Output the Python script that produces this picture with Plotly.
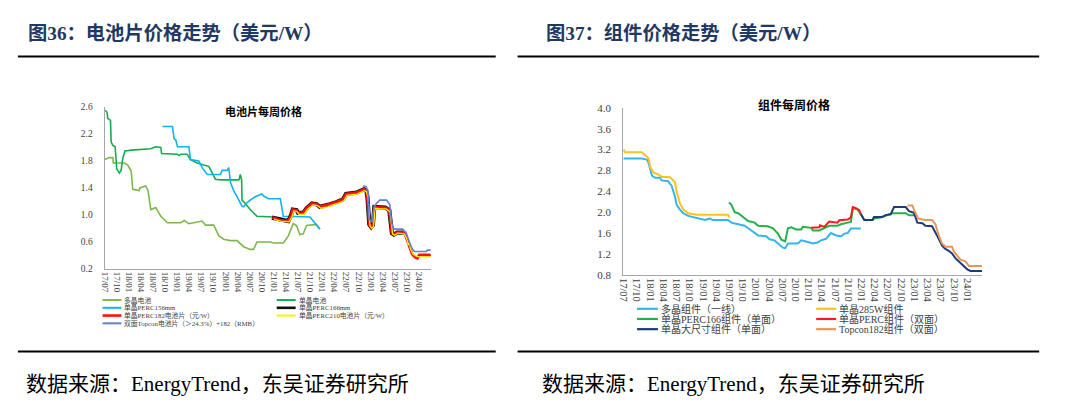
import plotly.graph_objects as go

W, H = 1074, 406


def px(x):
    return x / W


def py(y):
    return 1 - y / H


# ---------------- tick labels ----------------
quarter_dates = ["2017-07-01", "2017-10-01", "2018-01-01", "2018-04-01", "2018-07-01", "2018-10-01",
                 "2019-01-01", "2019-04-01", "2019-07-01", "2019-10-01", "2020-01-01", "2020-04-01",
                 "2020-07-01", "2020-10-01", "2021-01-01", "2021-04-01", "2021-07-01", "2021-10-01",
                 "2022-01-01", "2022-04-01", "2022-07-01", "2022-10-01", "2023-01-01", "2023-04-01",
                 "2023-07-01", "2023-10-01", "2024-01-01"]
quarter_labels = ["17/07", "17/10", "18/01", "18/04", "18/07", "18/10", "19/01", "19/04", "19/07", "19/10",
                  "20/01", "20/04", "20/07", "20/10", "21/01", "21/04", "21/07", "21/10", "22/01", "22/04",
                  "22/07", "22/10", "23/01", "23/04", "23/07", "23/10", "24/01"]
cell_yticks = [0.2, 0.6, 1.0, 1.4, 1.8, 2.2, 2.6]
module_yticks = [0.8, 1.2, 1.6, 2.0, 2.4, 2.8, 3.2, 3.6, 4.0]

# ---------------- cell prices (left) ----------------
cell_poly = [("2017-07-01", 1.82), ("2017-08-01", 1.84), ("2017-08-08", 1.85), ("2017-09-02", 1.85),
             ("2017-09-05", 1.77), ("2017-11-28", 1.77), ("2017-12-23", 1.74), ("2018-01-18", 1.65),
             ("2018-01-30", 1.38), ("2018-03-19", 1.36), ("2018-03-25", 1.40), ("2018-05-08", 1.43),
             ("2018-05-26", 1.36), ("2018-06-15", 1.08), ("2018-07-23", 1.11), ("2018-08-30", 0.98),
             ("2018-10-19", 0.885), ("2019-01-28", 0.885), ("2019-02-22", 0.92), ("2019-03-30", 0.87),
             ("2019-06-01", 0.895), ("2019-07-08", 0.91), ("2019-08-02", 0.85), ("2019-10-04", 0.85),
             ("2019-11-11", 0.69), ("2019-12-18", 0.64), ("2020-02-07", 0.62), ("2020-03-27", 0.62),
             ("2020-05-16", 0.53), ("2020-07-05", 0.49), ("2020-07-30", 0.49), ("2020-08-25", 0.60),
             ("2020-12-03", 0.60), ("2020-12-28", 0.585), ("2021-03-12", 0.585), ("2021-04-19", 0.69),
             ("2021-05-26", 0.875), ("2021-06-20", 0.84), ("2021-07-15", 0.71), ("2021-08-09", 0.72),
             ("2021-09-04", 0.845), ("2021-11-18", 0.86), ("2021-12-13", 0.79)]

cell_mono = [("2017-07-06", 2.55), ("2017-07-20", 2.52), ("2017-07-25", 2.43), ("2017-08-15", 2.40),
             ("2017-08-20", 2.08), ("2017-09-02", 2.03), ("2017-09-19", 2.01), ("2017-10-01", 1.68),
             ("2017-10-21", 1.62), ("2017-11-03", 1.66), ("2017-11-16", 1.84), ("2017-12-03", 1.95),
             ("2017-12-22", 1.95), ("2018-01-18", 1.96), ("2018-06-15", 1.98), ("2018-07-22", 2.01),
             ("2018-08-30", 2.00), ("2018-09-05", 1.91), ("2019-01-03", 1.90), ("2019-01-15", 1.88),
             ("2019-01-28", 1.90), ("2019-03-17", 1.90), ("2019-04-11", 1.82), ("2019-06-01", 1.77),
             ("2019-07-20", 1.74), ("2019-08-27", 1.72), ("2019-09-15", 1.65), ("2019-10-16", 1.53),
             ("2019-11-23", 1.52), ("2020-04-10", 1.52), ("2020-04-16", 1.55), ("2020-04-21", 1.60),
             ("2020-05-01", 1.52), ("2020-05-04", 1.22), ("2020-05-29", 1.17), ("2020-07-05", 1.08),
             ("2020-08-25", 0.98), ("2020-12-03", 0.98), ("2020-12-28", 0.97)]

cell_perc156 = [("2018-09-12", 2.31), ("2018-11-26", 2.31), ("2018-12-08", 2.13), ("2018-12-21", 2.11),
                ("2019-01-03", 2.01), ("2019-03-30", 2.01), ("2019-04-11", 1.82), ("2019-06-13", 1.80),
                ("2019-07-08", 1.70), ("2019-08-15", 1.60), ("2019-11-23", 1.60), ("2019-12-06", 1.66),
                ("2020-01-13", 1.66), ("2020-01-25", 1.70), ("2020-02-07", 1.48), ("2020-03-02", 1.36),
                ("2020-03-27", 1.27), ("2020-05-04", 1.13), ("2020-05-16", 1.12), ("2020-06-10", 1.18),
                ("2020-07-05", 1.22), ("2020-08-12", 1.27), ("2020-10-01", 1.31), ("2020-10-14", 1.28),
                ("2020-11-21", 1.24), ("2021-02-17", 1.24), ("2021-03-12", 0.98), ("2021-05-26", 0.98),
                ("2021-06-20", 0.97), ("2021-09-29", 0.97), ("2021-10-24", 0.91), ("2021-12-13", 0.79)]

cell_perc166 = [("2020-12-16", 0.96), ("2021-01-10", 0.95), ("2021-02-17", 0.92), ("2021-04-19", 0.91),
                ("2021-05-10", 1.00), ("2021-05-22", 1.08), ("2021-06-20", 1.07), ("2021-07-02", 1.03),
                ("2021-08-09", 1.03), ("2021-09-04", 1.10), ("2021-10-15", 1.17), ("2021-11-18", 1.16),
                ("2021-12-13", 1.12), ("2022-02-02", 1.14), ("2022-02-27", 1.16), ("2022-04-16", 1.19),
                ("2022-06-05", 1.23), ("2022-06-28", 1.31), ("2022-09-14", 1.33), ("2022-11-10", 1.38),
                ("2022-11-28", 1.36), ("2022-12-07", 1.27), ("2022-12-21", 0.86), ("2023-01-05", 0.82),
                ("2023-01-17", 0.85), ("2023-01-28", 1.12), ("2023-03-07", 1.11), ("2023-04-21", 1.11),
                ("2023-05-21", 1.07), ("2023-06-10", 0.73), ("2023-06-25", 0.71), ("2023-07-20", 0.74),
                ("2023-09-05", 0.74)]

cell_perc182 = [("2020-12-20", 0.96), ("2021-01-10", 0.95), ("2021-02-17", 0.92), ("2021-04-19", 0.91),
                ("2021-05-10", 1.00), ("2021-05-22", 1.08), ("2021-06-20", 1.07), ("2021-07-02", 1.03),
                ("2021-08-09", 1.03), ("2021-09-04", 1.10), ("2021-10-15", 1.17), ("2021-11-18", 1.16),
                ("2021-12-13", 1.12), ("2022-02-02", 1.14), ("2022-02-27", 1.16), ("2022-04-16", 1.19),
                ("2022-06-05", 1.23), ("2022-06-28", 1.31), ("2022-09-14", 1.33), ("2022-11-10", 1.38),
                ("2022-11-28", 1.36), ("2022-12-07", 1.27), ("2022-12-21", 0.86), ("2023-01-05", 0.82),
                ("2023-01-17", 0.85), ("2023-01-28", 1.12), ("2023-03-07", 1.11), ("2023-04-21", 1.11),
                ("2023-05-21", 1.07), ("2023-06-10", 0.73), ("2023-06-25", 0.71), ("2023-07-20", 0.74),
                ("2023-09-05", 0.74), ("2023-09-20", 0.70), ("2023-10-15", 0.55), ("2023-11-10", 0.42),
                ("2023-12-05", 0.37), ("2023-12-20", 0.36), ("2024-01-02", 0.41), ("2024-03-16", 0.41),
                ("2024-03-28", 0.39)]

cell_perc210 = [("2021-01-01", 0.94), ("2021-02-20", 0.91), ("2021-04-25", 0.90), ("2021-05-18", 0.98),
                ("2021-05-30", 1.06), ("2021-06-25", 1.05), ("2021-07-08", 1.01), ("2021-08-15", 1.01),
                ("2021-09-10", 1.08), ("2021-10-22", 1.15), ("2021-11-25", 1.14), ("2021-12-20", 1.10),
                ("2022-02-10", 1.12), ("2022-03-05", 1.14), ("2022-04-25", 1.17), ("2022-06-12", 1.21),
                ("2022-07-05", 1.29), ("2022-09-20", 1.31), ("2022-11-15", 1.36), ("2022-12-01", 1.34),
                ("2022-12-12", 1.25), ("2022-12-26", 0.84), ("2023-01-10", 0.80), ("2023-01-22", 0.83),
                ("2023-02-03", 1.10), ("2023-03-12", 1.09), ("2023-04-26", 1.09), ("2023-05-26", 1.05),
                ("2023-06-15", 0.72), ("2023-06-30", 0.70), ("2023-07-25", 0.73), ("2023-09-10", 0.72),
                ("2023-09-28", 0.66), ("2023-10-12", 0.55), ("2023-10-20", 0.60), ("2023-10-28", 0.50),
                ("2023-11-15", 0.42), ("2023-12-10", 0.39), ("2024-01-05", 0.38), ("2024-03-28", 0.38)]

cell_topcon = [("2022-11-03", 1.43), ("2022-11-28", 1.42), ("2022-12-12", 1.33), ("2022-12-20", 0.93),
               ("2023-01-10", 0.90), ("2023-01-25", 1.10), ("2023-02-12", 1.17), ("2023-03-10", 1.22),
               ("2023-05-01", 1.22), ("2023-05-25", 1.15), ("2023-06-08", 0.88), ("2023-06-25", 0.79),
               ("2023-08-30", 0.79), ("2023-09-24", 0.74), ("2023-10-20", 0.60), ("2023-11-10", 0.50),
               ("2023-11-26", 0.46), ("2024-02-25", 0.46), ("2024-03-04", 0.48), ("2024-03-28", 0.48)]

# ---------------- module prices (right) ----------------
mod_poly = [("2017-07-01", 3.03), ("2017-11-05", 3.03), ("2017-12-09", 3.01), ("2017-12-20", 2.95),
            ("2018-01-02", 2.82), ("2018-01-13", 2.70), ("2018-02-05", 2.66), ("2018-03-10", 2.66),
            ("2018-03-21", 2.61), ("2018-05-06", 2.595), ("2018-05-17", 2.55), ("2018-05-29", 2.51),
            ("2018-06-21", 2.30), ("2018-07-03", 2.14), ("2018-07-26", 2.05), ("2018-08-18", 1.98),
            ("2018-09-21", 1.93), ("2018-11-07", 1.90), ("2019-01-15", 1.85), ("2019-02-18", 1.88),
            ("2019-03-11", 1.85), ("2019-06-23", 1.85), ("2019-07-16", 1.80), ("2019-09-01", 1.77),
            ("2019-10-16", 1.74), ("2019-12-01", 1.65), ("2020-01-17", 1.555), ("2020-03-13", 1.54),
            ("2020-04-05", 1.48), ("2020-05-09", 1.46), ("2020-06-13", 1.38), ("2020-07-06", 1.32),
            ("2020-07-22", 1.31), ("2020-08-10", 1.40), ("2020-10-17", 1.40), ("2020-11-10", 1.46),
            ("2020-12-26", 1.43), ("2021-01-30", 1.40), ("2021-03-03", 1.42), ("2021-03-26", 1.46),
            ("2021-04-30", 1.49), ("2021-06-03", 1.60), ("2021-07-08", 1.555), ("2021-08-12", 1.54),
            ("2021-09-04", 1.59), ("2021-09-27", 1.60), ("2021-10-19", 1.69), ("2021-12-27", 1.69)]

mod_285w = [("2017-07-01", 3.20), ("2017-07-12", 3.15), ("2017-11-05", 3.15), ("2017-12-09", 3.07),
            ("2017-12-20", 3.04), ("2018-01-02", 2.86), ("2018-01-25", 2.76), ("2018-02-28", 2.72),
            ("2018-03-21", 2.68), ("2018-05-17", 2.67), ("2018-05-29", 2.64), ("2018-06-21", 2.58),
            ("2018-07-03", 2.39), ("2018-07-26", 2.17), ("2018-08-18", 2.05), ("2018-09-21", 1.98),
            ("2018-11-18", 1.95), ("2019-06-23", 1.95), ("2019-07-04", 1.90)]

mod_perc166 = [("2019-06-30", 2.19), ("2019-07-16", 2.14), ("2019-08-08", 2.00), ("2019-09-01", 1.98),
               ("2019-10-05", 1.91), ("2019-11-09", 1.83), ("2019-12-24", 1.80), ("2020-01-17", 1.74),
               ("2020-03-24", 1.73), ("2020-04-28", 1.69), ("2020-06-02", 1.59), ("2020-06-25", 1.475),
               ("2020-07-22", 1.44), ("2020-08-10", 1.69), ("2020-09-02", 1.71), ("2020-10-06", 1.67),
               ("2020-11-10", 1.67), ("2020-11-21", 1.72), ("2021-01-18", 1.70), ("2021-01-30", 1.65),
               ("2021-03-15", 1.65), ("2021-04-07", 1.68), ("2021-05-22", 1.74), ("2021-07-19", 1.74),
               ("2021-08-12", 1.77), ("2021-09-27", 1.80), ("2021-10-19", 1.815), ("2021-11-01", 2.08),
               ("2021-12-05", 2.05), ("2021-12-27", 1.96), ("2022-01-20", 1.85), ("2022-03-17", 1.85),
               ("2022-03-28", 1.88), ("2022-05-13", 1.90), ("2022-06-16", 1.93), ("2022-08-02", 1.98),
               ("2022-11-02", 1.98), ("2022-11-25", 1.94), ("2023-01-10", 1.94)]

mod_perc_bifacial = [("2021-01-18", 1.70), ("2021-03-15", 1.71), ("2021-03-20", 1.75), ("2021-04-18", 1.72),
                     ("2021-05-22", 1.82), ("2021-07-19", 1.80), ("2021-07-31", 1.845), ("2021-09-27", 1.86),
                     ("2021-10-19", 1.90), ("2021-11-01", 2.10), ("2021-11-23", 2.08), ("2021-12-16", 2.04),
                     ("2021-12-27", 1.96)]

mod_large = [("2021-12-27", 1.96), ("2022-01-20", 1.85), ("2022-03-17", 1.85), ("2022-03-28", 1.91),
             ("2022-05-24", 1.91), ("2022-06-16", 1.945), ("2022-07-21", 1.96), ("2022-08-13", 2.10),
             ("2022-11-02", 2.10), ("2022-11-25", 2.02), ("2022-12-29", 1.99), ("2023-01-10", 1.90),
             ("2023-01-21", 1.80), ("2023-02-25", 1.79), ("2023-03-18", 1.74), ("2023-05-03", 1.73),
             ("2023-05-26", 1.62), ("2023-06-18", 1.49), ("2023-07-11", 1.36), ("2023-08-03", 1.295),
             ("2023-08-26", 1.26), ("2023-09-18", 1.21), ("2023-10-11", 1.12), ("2023-11-15", 1.03),
             ("2023-12-08", 0.97), ("2024-01-01", 0.905), ("2024-01-23", 0.875), ("2024-04-12", 0.875)]

mod_topcon = [("2022-11-14", 2.13), ("2022-12-18", 2.13), ("2022-12-29", 2.05), ("2023-01-10", 1.96),
              ("2023-01-26", 1.88), ("2023-02-25", 1.86), ("2023-03-18", 1.85), ("2023-05-03", 1.85),
              ("2023-05-26", 1.77), ("2023-06-18", 1.555), ("2023-07-11", 1.40), ("2023-08-03", 1.34),
              ("2023-09-18", 1.34), ("2023-09-30", 1.25), ("2023-10-23", 1.18), ("2023-11-15", 1.09),
              ("2023-12-19", 1.06), ("2024-01-12", 0.97), ("2024-04-12", 0.97)]

# ---------------- styles ----------------
LEFT = dict(x0=100, x1=428, y0=104, y1=271)
RIGHT = dict(x0=621, x1=982, y0=105, y1=277)
SERIF_CJK = "Liberation Serif, Noto Sans CJK SC"

cell_series = [
    ("多晶电池", cell_poly, "#7DB84B", 1.6),
    ("单晶电池", cell_mono, "#12AD4F", 1.6),
    ("单晶PERC156mm", cell_perc156, "#11B2EE", 1.6),
    ("单晶PERC166mm", cell_perc166, "#111111", 4.2),
    ("单晶PERC182电池片（元/W）", cell_perc182, "#FF1010", 2.8),
    ("单晶PERC210电池片（元/W）", cell_perc210, "#FFF200", 1.3),
    ("双面Topcon电池片（＞24.3%）+182（RMB）", cell_topcon, "#5F82CF", 1.6),
]
module_series = [
    ("多晶组件（一线）", mod_poly, "#35B6EA", 2.0),
    ("单晶285W组件", mod_285w, "#FFC21A", 2.0),
    ("单晶PERC166组件（单面）", mod_perc166, "#22B24C", 2.0),
    ("单晶PERC组件（双面）", mod_perc_bifacial, "#FF1A1A", 2.0),
    ("单晶大尺寸组件（单面）", mod_large, "#1F3A7C", 2.0),
    ("Topcon182组件（双面）", mod_topcon, "#E8975B", 2.0),
]

fig = go.Figure()
for name, data, color, width in cell_series:
    fig.add_trace(go.Scatter(x=[d for d, _ in data], y=[v for _, v in data], mode="lines", name=name,
                             line=dict(color=color, width=width), xaxis="x", yaxis="y"))
for name, data, color, width in module_series:
    fig.add_trace(go.Scatter(x=[d for d, _ in data], y=[v for _, v in data], mode="lines", name=name,
                             line=dict(color=color, width=width), xaxis="x2", yaxis="y2"))

axis_common = dict(showgrid=False, zeroline=False, showline=True, linecolor="#A6A6A6", linewidth=1,
                   ticks="", tickcolor="#A6A6A6")

fig.update_layout(
    width=W, height=H, margin=dict(l=0, r=0, t=0, b=0), showlegend=False,
    paper_bgcolor="white", plot_bgcolor="white",
    xaxis=dict(domain=[px(LEFT["x0"]), px(LEFT["x1"])], anchor="y", type="date",
               range=["2017-07-01", "2024-03-31"], tickvals=quarter_dates, ticktext=quarter_labels,
               tickangle=90, tickfont=dict(family="Liberation Serif", size=9, color="#404040"), **axis_common),
    yaxis=dict(domain=[py(LEFT["y1"]), py(LEFT["y0"])], anchor="x", range=[0.2, 2.6],
               tickvals=cell_yticks, ticktext=[f"{v:.1f}" for v in cell_yticks], ticklabelstandoff=9,
               tickfont=dict(family="Liberation Serif", size=9.5, color="#404040"), **axis_common),
    xaxis2=dict(domain=[px(RIGHT["x0"]), px(RIGHT["x1"])], anchor="y2", type="date",
                range=["2017-06-28", "2024-04-15"], tickvals=quarter_dates, ticktext=quarter_labels,
                tickangle=90, tickfont=dict(family="Liberation Serif", size=10.5, color="#404040"),
                **axis_common),
    yaxis2=dict(domain=[py(RIGHT["y1"]), py(RIGHT["y0"])], anchor="x2", range=[0.8, 4.0],
                tickvals=module_yticks, ticktext=[f"{v:.1f}" for v in module_yticks], ticklabelstandoff=9,
                tickfont=dict(family="Liberation Serif", size=11, color="#404040"), **axis_common),
)

shapes = []
annotations = []


def text(x, y, s, size, color="#000000", family=SERIF_CJK, anchor="left"):
    annotations.append(dict(x=px(x), y=py(y), xref="paper", yref="paper", text=s, showarrow=False,
                            xanchor=anchor, yanchor="middle", font=dict(family=family, size=size, color=color)))


def hline(x0, x1, y, color, width):
    shapes.append(dict(type="line", xref="paper", yref="paper", x0=px(x0), x1=px(x1), y0=py(y), y1=py(y),
                       line=dict(color=color, width=width)))


# headers and rules
text(21, 28, "<b>图36：电池片价格走势（美元/W）</b>", 19.3, "#1F3864")
text(542, 28, "<b>图37：组件价格走势（美元/W）</b>", 19.3, "#1F3864")
for a, b in [(13, 493), (515, 1039)]:
    hline(a, b, 52, "#000000", 2)
    hline(a, b, 356, "#000000", 2)
text(19, 390, "数据来源：EnergyTrend，东吴证券研究所", 21)
text(538, 390, "数据来源：EnergyTrend，东吴证券研究所", 21)

# chart inner titles
text(260, 108, "<b>电池片每周价格</b>", 11, family="Noto Sans CJK SC", anchor="center")
text(793, 102, "<b>组件每周价格</b>", 12, family="Noto Sans CJK SC", anchor="center")

# manual legends
cell_cols = [(98, 117), (273, 292)]
cell_rows = [303, 311, 319, 327]
for i, (name, _, color, width) in enumerate(cell_series):
    c, r = i % 2, i // 2
    x0, x1 = cell_cols[c]
    hline(x0, x1, cell_rows[r], color, 2.6 if width > 2 else 2)
    text(x1 + 1, cell_rows[r], name, 6.8, "#404040")

mod_cols = [(635, 656), (815, 835)]
mod_rows = [312, 322.5, 333]
for i, (name, _, color, width) in enumerate(module_series):
    c, r = i % 2, i // 2
    x0, x1 = mod_cols[c]
    hline(x0, x1, mod_rows[r], color, 2.2)
    text(x1 + 1, mod_rows[r], name, 10, "#404040")

fig.update_layout(shapes=shapes, annotations=annotations)
fig.write_html("out.html")
